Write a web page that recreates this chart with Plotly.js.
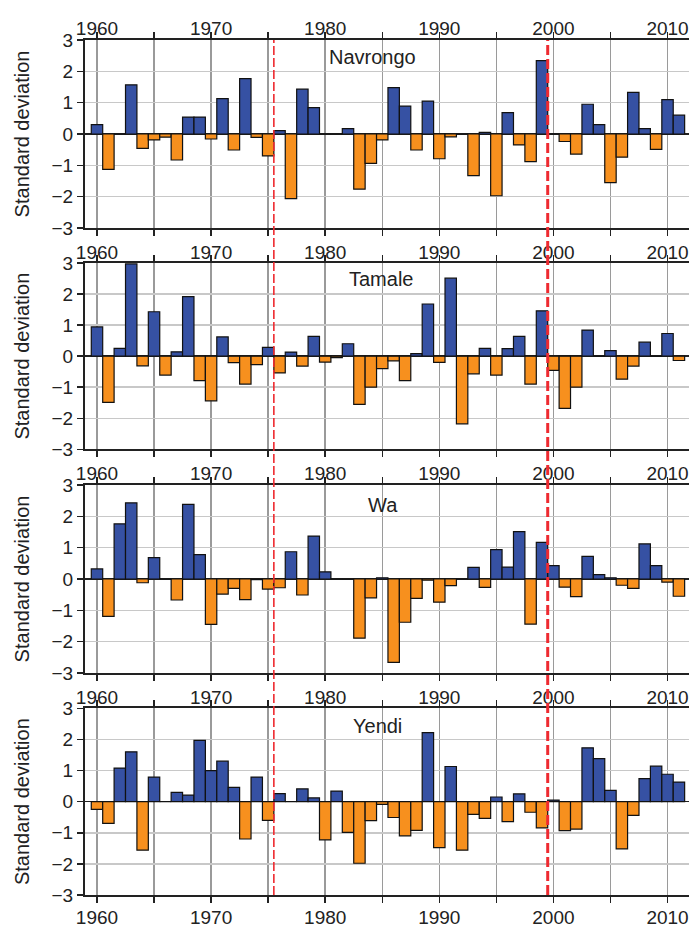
<!DOCTYPE html>
<html>
<head>
<meta charset="utf-8">
<script src="https://cdn.plot.ly/plotly-3.0.1.min.js"></script>
<style>
html,body{margin:0;padding:0;background:#fff;overflow:hidden;}
#chart{width:700px;height:928px;}
</style>
</head>
<body>
<div id="chart"></div>
<script>
// ---- data ----
var years = [];
for (var yr = 1960; yr <= 2011; yr++) years.push(yr);

var stationNames = ["Navrongo", "Tamale", "Wa", "Yendi"];

var navrongo = [0.30,-1.13,0.00,1.57,-0.46,-0.19,-0.10,-0.83,0.54,0.54,
  -0.16,1.13,-0.51,1.77,-0.11,-0.70,0.11,-2.06,1.43,0.84,
  0.00,0.00,0.17,-1.76,-0.94,-0.19,1.48,0.89,-0.51,1.05,
  -0.79,-0.09,0.00,-1.33,0.05,-1.97,0.68,-0.35,-0.88,2.34,
  0.00,-0.24,-0.64,0.95,0.30,-1.55,-0.74,1.33,0.17,-0.49,
  1.10,0.60];

var tamale = [0.94,-1.49,0.25,2.97,-0.31,1.43,-0.61,0.14,1.92,-0.79,
  -1.44,0.62,-0.21,-0.90,-0.27,0.28,-0.54,0.13,-0.32,0.64,
  -0.19,-0.05,0.40,-1.55,-1.00,-0.40,-0.15,-0.79,0.08,1.68,
  -0.20,2.51,-2.18,-0.57,0.25,-0.61,0.24,0.64,-0.90,1.46,
  -0.46,-1.68,-1.00,0.84,0.00,0.18,-0.74,-0.32,0.45,0.00,
  0.73,-0.14];

var wa = [0.32,-1.19,1.76,2.43,-0.12,0.68,0.00,-0.67,2.38,0.78,
  -1.45,-0.48,-0.30,-0.66,-0.02,-0.32,-0.28,0.87,-0.51,1.37,
  0.23,0.00,0.00,-1.89,-0.60,0.04,-2.66,-1.38,-0.62,-0.04,
  -0.74,-0.21,0.00,0.37,-0.27,0.94,0.38,1.51,-1.44,1.17,
  0.43,-0.26,-0.56,0.72,0.14,0.04,-0.20,-0.30,1.12,0.43,
  -0.10,-0.55];

var yendi = [-0.25,-0.70,1.08,1.60,-1.56,0.79,0.00,0.30,0.21,1.97,
  1.00,1.30,0.46,-1.20,0.79,-0.60,0.26,0.00,0.41,0.12,
  -1.23,0.34,-0.99,-1.98,-0.61,-0.09,-0.51,-1.10,-0.92,2.22,
  -1.48,1.13,-1.56,-0.41,-0.54,0.15,-0.64,0.25,-0.34,-0.84,
  0.05,-0.93,-0.88,1.73,1.38,0.36,-1.52,-0.44,0.74,1.14,
  0.88,0.63];

var seriesList = [navrongo, tamale, wa, yendi];

var xTickVals = [1960,1965,1970,1975,1980,1985,1990,1995,2000,2005,2010];
var xTickText = ["1960","","1970","","1980","","1990","","2000","","2010"];
var yTickVals = [-3,-2,-1,0,1,2,3];
var breakYears = [1975.5, 1999.5];

// ---- style ----
var BLUE = "#3651a3", ORANGE = "#f7901e", RED = "#ee2a30";
var FONT = "Liberation Sans, Arial, Helvetica, sans-serif";
var TXT = "#222";
var H = 928;
var panelPx = [[40,228],[263,449.3],[485,673],[708.3,895]];
var xr = [1958.95, 2011.97];

var traces = [];
var layout = {
  width: 700, height: H,
  margin: {l: 85, r: 10, t: 0, b: 0},
  paper_bgcolor: "#fff", plot_bgcolor: "#fff",
  showlegend: false, bargap: 0,
  font: {family: FONT, size: 19, color: TXT},
  annotations: [], shapes: []
};

for (var i = 0; i < 4; i++) {
  var s = i === 0 ? "" : String(i + 1);
  var vals = seriesList[i];
  traces.push({
    type: "bar", x: years, y: vals,
    xaxis: "x" + s, yaxis: "y" + s,
    width: 1,
    marker: {
      color: vals.map(function (v) { return v >= 0 ? BLUE : ORANGE; }),
      line: {color: "#111", width: 1.2}
    },
    hoverinfo: "x+y"
  });
  var dom = [1 - panelPx[i][1] / H, 1 - panelPx[i][0] / H];
  layout["xaxis" + s] = {
    domain: [0, 1], anchor: "y" + s, range: xr,
    tickmode: "array", tickvals: xTickVals, ticktext: xTickText,
    ticks: "outside", ticklen: 6, tickwidth: 1.5, tickcolor: "#222",
    showline: true, linecolor: "#222", linewidth: 2, mirror: "ticks",
    showgrid: true, gridcolor: "#9a9a9a", gridwidth: 1.5,
    zeroline: false, fixedrange: true,
    ticklabelstandoff: i === 3 ? -2 : 0,
    tickfont: {family: FONT, size: 19, color: TXT}
  };
  layout["yaxis" + s] = {
    domain: dom, anchor: "x" + s, range: [-3, 3],
    tickmode: "array", tickvals: yTickVals,
    ticks: "outside", ticklen: 6, tickwidth: 1.5, tickcolor: "#222",
    showline: true, linecolor: "#222", linewidth: 2, mirror: false,
    showgrid: true, gridcolor: "#c8c8c8", gridwidth: 1.5,
    zeroline: true, zerolinecolor: "#222", zerolinewidth: 1.5,
    fixedrange: true,
    tickfont: {family: FONT, size: 19, color: TXT},
    title: {text: "Standard deviation", font: {family: FONT, size: 20, color: TXT}, standoff: 17}
  };
  layout.annotations.push({
    text: stationNames[i], xref: "paper", yref: "paper",
    x: [0.476, 0.489, 0.493, 0.483][i],
    y: 1 - [57, 279, 505, 726][i] / H,
    xanchor: "center", yanchor: "middle", showarrow: false,
    font: {family: FONT, size: 20, color: TXT}
  });
}

// top labels on first panel
layout.xaxis5 = {
  overlaying: "x", anchor: "y", side: "top", range: xr,
  tickmode: "array", tickvals: xTickVals, ticktext: xTickText,
  ticks: "", showline: false, showgrid: false, zeroline: false,
  fixedrange: true, tickfont: {family: FONT, size: 19, color: TXT}
};
traces.push({
  type: "scatter", mode: "markers", x: [years[0]], y: [0],
  xaxis: "x5", yaxis: "y", marker: {opacity: 0}, hoverinfo: "skip"
});

// break lines
var yTop = 1 - panelPx[0][0] / H, yBot = 1 - panelPx[3][1] / H;
layout.shapes.push({
  type: "line", xref: "x", yref: "paper", x0: breakYears[0], x1: breakYears[0],
  y0: yBot, y1: yTop, layer: "above",
  line: {color: RED, width: 1.6, dash: "9px,3px"}
});
layout.shapes.push({
  type: "line", xref: "x", yref: "paper", x0: breakYears[1], x1: breakYears[1],
  y0: yBot, y1: yTop, layer: "above",
  line: {color: RED, width: 3, dash: "10px,4px"}
});

Plotly.newPlot("chart", traces, layout, {displayModeBar: false, staticPlot: true});
</script>
</body>
</html>
